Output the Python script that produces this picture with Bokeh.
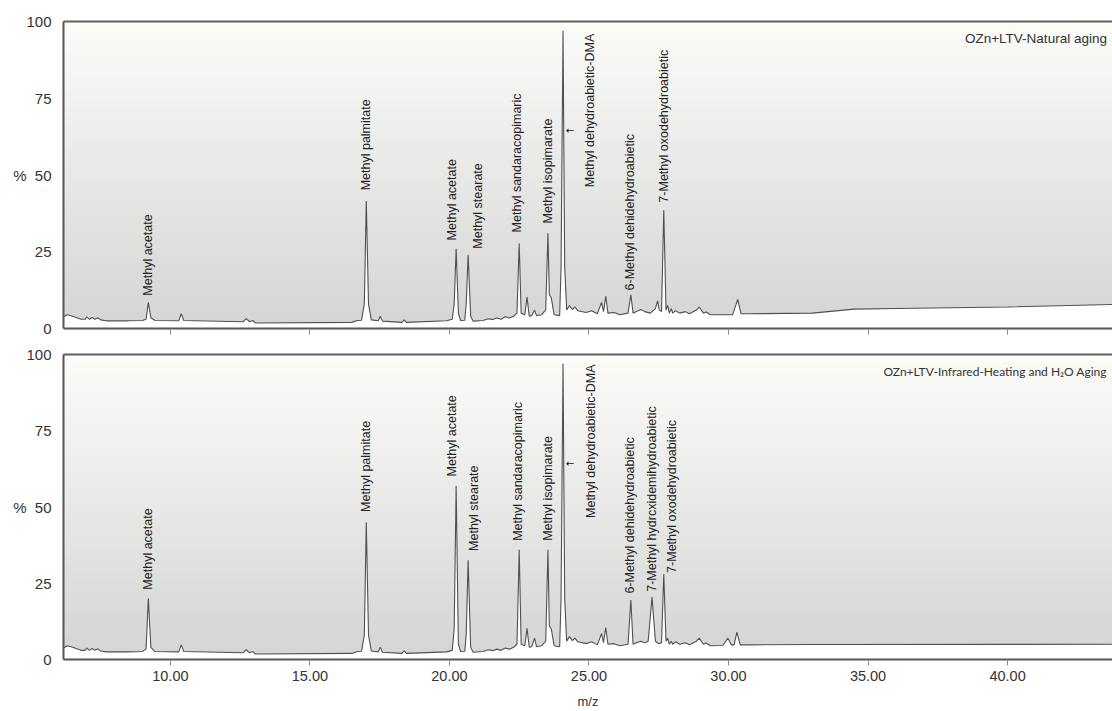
import numpy as np
from bokeh.plotting import figure
from bokeh.models import LinearAxis, FixedTicker, PrintfTickFormatter, ColumnDataSource, Range1d
from bokeh.layouts import column
from bokeh.embed import file_html
from bokeh.resources import INLINE
from bokeh.core.properties import value

# ---------------- data ----------------
x_top = [6.17, 6.3, 6.5, 6.8, 6.95, 7.0, 7.1, 7.2, 7.3, 7.4, 7.5, 7.7, 8.5, 9.0, 9.13, 9.21, 9.3, 9.45,
         10.3, 10.39, 10.48, 12.6, 12.72, 12.84, 12.95, 13.05, 16.5, 16.7, 16.85, 16.95, 17.02, 17.1, 17.2,
         17.45, 17.52, 17.6, 18.3, 18.38, 18.46, 19.9, 20.1, 20.17, 20.24, 20.32, 20.4, 20.55, 20.6, 20.67,
         20.76, 20.85, 21.2, 21.4, 21.55, 21.7, 21.85, 22.0, 22.15, 22.3, 22.42, 22.5, 22.57, 22.7, 22.78,
         22.86, 22.95, 23.05, 23.12, 23.3, 23.45, 23.53, 23.58, 23.65, 23.75, 23.95, 24.0, 24.07, 24.13,
         24.2, 24.3, 24.4, 24.5, 24.6, 24.9, 25.1, 25.3, 25.45, 25.52, 25.6, 25.68, 25.9, 26.1, 26.4, 26.5,
         26.58, 26.7, 26.85, 27.0, 27.2, 27.38, 27.46, 27.52, 27.6, 27.68, 27.76, 27.82, 27.88, 27.95, 28.0,
         28.1, 28.25, 28.45, 28.6, 28.85, 28.95, 29.1, 29.2, 29.35, 30.15, 30.33, 30.45, 30.7, 33.0, 34.5,
         36.0, 40.0, 43.76]
y_top = [3.8, 4.5, 4.0, 3.0, 3.0, 3.8, 3.0, 3.6, 3.0, 3.5, 2.8, 2.5, 2.5, 2.6, 3.0, 8.5, 3.5, 2.6,
         2.5, 4.8, 2.6, 2.2, 3.2, 2.2, 2.6, 1.8, 2.0, 2.6, 2.7, 8.0, 41.5, 8.0, 2.8,
         2.5, 4.0, 2.4, 2.0, 2.8, 2.0, 2.5, 3.0, 8.0, 26.0, 5.0, 2.6, 2.7, 8.0, 24.0,
         4.0, 2.4, 2.6, 3.2, 2.9, 3.4, 3.0, 3.8, 3.4, 4.0, 5.0, 27.7, 5.0, 4.5, 10.2,
         4.0, 4.2, 6.0, 4.2, 4.5, 6.0, 31.0, 11.0, 10.0, 4.5, 4.2, 20.0, 97.0, 20.0,
         6.0, 7.5, 6.2, 7.0, 5.8, 5.2, 5.8, 4.8, 8.5, 5.5, 10.5, 5.0, 5.2, 4.5, 5.0, 11.0,
         5.0, 5.5, 6.2, 5.5, 5.0, 6.5, 9.0, 6.0, 5.5, 38.5, 6.0, 7.5, 5.0, 6.5, 5.0,
         5.8, 5.0, 5.5, 4.8, 6.0, 7.0, 5.0, 5.4, 4.5, 4.5, 9.5, 4.8, 4.8, 5.0, 6.3,
         6.5, 7.0, 7.8]

x_bot = [6.17, 6.3, 6.5, 6.8, 6.95, 7.0, 7.1, 7.2, 7.3, 7.4, 7.5, 7.7, 8.5, 9.0, 9.13, 9.21, 9.3, 9.45,
         10.3, 10.39, 10.48, 12.6, 12.72, 12.84, 12.95, 13.05, 16.5, 16.7, 16.85, 16.95, 17.02, 17.1, 17.2,
         17.45, 17.52, 17.6, 18.3, 18.38, 18.46, 19.9, 20.1, 20.17, 20.24, 20.32, 20.4, 20.55, 20.6, 20.67,
         20.76, 20.85, 21.2, 21.4, 21.55, 21.7, 21.85, 22.0, 22.15, 22.3, 22.42, 22.5, 22.57, 22.7, 22.78,
         22.86, 22.95, 23.05, 23.12, 23.3, 23.45, 23.53, 23.58, 23.65, 23.75, 23.95, 24.0, 24.07, 24.13,
         24.2, 24.3, 24.4, 24.5, 24.6, 24.9, 25.1, 25.3, 25.45, 25.52, 25.6, 25.68, 25.9, 26.1, 26.4, 26.5,
         26.58, 26.7, 26.85, 27.0, 27.12, 27.26, 27.38, 27.5, 27.6, 27.68, 27.76, 27.82, 27.88, 27.95, 28.0,
         28.1, 28.25, 28.45, 28.6, 28.85, 28.95, 29.1, 29.2, 29.35, 29.8, 29.98, 30.1, 30.2, 30.3, 30.42,
         30.7, 33.0, 43.76]
y_bot = [3.8, 4.5, 4.0, 3.0, 3.0, 3.8, 3.0, 3.6, 3.0, 3.5, 2.8, 2.5, 2.5, 2.6, 3.5, 20.0, 4.0, 2.6,
         2.5, 4.8, 2.6, 2.2, 3.2, 2.2, 2.6, 1.8, 2.0, 2.6, 2.7, 8.0, 45.0, 8.0, 2.8,
         2.5, 4.0, 2.4, 2.0, 2.8, 2.0, 2.5, 3.0, 10.0, 57.0, 5.0, 2.6, 2.7, 8.0, 32.5,
         4.0, 2.4, 2.6, 3.2, 2.9, 3.4, 3.0, 3.8, 3.4, 4.0, 5.0, 36.0, 5.0, 4.5, 10.2,
         4.0, 4.2, 7.0, 4.2, 4.5, 6.0, 36.0, 11.0, 10.0, 4.5, 4.2, 20.0, 97.0, 20.0,
         6.0, 7.5, 6.2, 7.0, 5.8, 5.2, 5.8, 4.8, 8.5, 5.5, 10.5, 5.0, 5.2, 4.5, 5.0, 19.5,
         5.0, 5.5, 6.0, 5.5, 6.0, 20.5, 6.0, 5.2, 5.5, 28.0, 6.0, 7.0, 5.0, 6.0, 5.0,
         5.8, 5.0, 5.5, 4.8, 6.0, 7.0, 5.0, 5.4, 4.5, 4.6, 7.0, 4.8, 4.8, 9.0, 4.8,
         4.8, 4.9, 5.0]

labels_top = ["Methyl acetate", "Methyl palmitate", "Methyl acetate", "Methyl stearate",
              "Methyl sandaracopimaric", "Methyl isopimarate", "Methyl dehydroabietic-DMA",
              "6-Methyl dehidehydroabietic", "7-Methyl oxodehydroabietic"]
label_x_top = [9.21, 17.02, 20.10, 21.03, 22.42, 23.53, 25.04, 26.47, 27.69]
label_y_top = [10.7, 45.0, 28.7, 26.0, 31.3, 34.2, 46.0, 12.4, 41.0]

labels_bot = ["Methyl acetate", "Methyl palmitate", "Methyl acetate", "Methyl stearate",
              "Methyl sandaracopimaric", "Methyl isopimarate", "Methyl dehydroabietic-DMA",
              "6-Methyl dehidehydroabietic", "7-Methyl hydrcxidemihydroabietic", "7-Methyl oxodehydroabietic"]
label_x_bot = [9.21, 17.02, 20.10, 20.88, 22.46, 23.53, 25.07, 26.47, 27.26, 27.97]
label_y_bot = [22.9, 48.4, 60.0, 35.6, 38.9, 38.9, 46.4, 21.6, 22.2, 28.4]

arrow_x = [24.32]
arrow_y_top = [64.5]
arrow_y_bot = [64.4]

titles = ["OZn+LTV-Natural aging", "OZn+LTV-Infrared-Heating and H\u2082O Aging"]
title_sizes = ["13.5px", "12px"]
x_ticks = [10, 15, 20, 25, 30, 35, 40]
y_ticks = [0, 25, 50, 75, 100]

X0, X1 = 6.17, 43.76
FONT = "Liberation Sans"
AXIS_COL = "#555555"
TXT_COL = "#333333"

# gradient background image (style only)
N = 200
grad = np.empty((N, 1), dtype=np.uint32)
gv = grad.view(dtype=np.uint8).reshape((N, 1, 4))
for i in range(N):
    t = i / (N - 1)  # 0 bottom, 1 top
    gv[i, 0, 0] = int(213 + (252 - 213) * t)
    gv[i, 0, 1] = int(213 + (252 - 213) * t)
    gv[i, 0, 2] = int(213 + (249 - 213) * t)
    gv[i, 0, 3] = 255

xr = Range1d(X0, X1)


def make_panel(xs, ys, labs, lx, ly, ay, title, title_font, title_size, height, top_border,
               bottom_border, show_labels):
    p = figure(width=1112, height=height, x_range=xr, y_range=Range1d(0, 100),
               output_backend="svg", toolbar_location=None,
               min_border_left=63, min_border_right=0, min_border_top=top_border,
               min_border_bottom=bottom_border)
    p.grid.visible = False
    p.outline_line_color = None
    p.background_fill_color = "white"
    p.border_fill_color = "white"

    p.image_rgba(image=[grad], x=X0, y=0, dw=X1 - X0, dh=100)
    p.varea(x=xs, y1=[0] * len(xs), y2=ys, fill_color="white")
    p.line(xs, ys, line_color="#505050", line_width=1.1)

    src = ColumnDataSource(dict(x=lx, y=ly, t=labs))
    p.text(x="x", y="y", text="t", source=src, angle=np.pi / 2, text_align="left",
           text_baseline="middle", text_font=value(FONT), text_font_size="12.5px",
           text_color="#222222")
    p.text(x=arrow_x, y=ay, text=["\u2190"], text_align="center", text_baseline="middle",
           text_font=value("DejaVu Sans"), text_font_size="10px", text_color="#111111")
    p.text(x=[X1 - 0.2], y=[94.5], text=[title], text_align="right", text_baseline="middle",
           text_font=value(title_font), text_font_size=title_size, text_color="#333333")

    yax = p.yaxis[0]
    yax.ticker = FixedTicker(ticks=y_ticks)
    yax.major_tick_line_color = None
    yax.minor_tick_line_color = None
    yax.axis_line_color = AXIS_COL
    yax.axis_line_width = 2
    yax.major_label_text_font = FONT
    yax.major_label_text_font_size = "15px"
    yax.major_label_text_color = TXT_COL
    yax.major_label_standoff = 6
    yax.major_label_overrides = {50: "%\u00a0\u00a050"}

    xax = p.xaxis[0]
    xax.ticker = FixedTicker(ticks=x_ticks)
    xax.minor_tick_line_color = None
    xax.major_tick_in = 0
    xax.major_tick_out = 6
    xax.major_tick_line_color = "#888888"
    xax.axis_line_color = AXIS_COL
    xax.axis_line_width = 2
    xax.major_label_text_font = FONT
    xax.major_label_text_color = TXT_COL
    if show_labels:
        xax.formatter = PrintfTickFormatter(format="%.2f")
        xax.major_label_text_font_size = "14.5px"
        xax.major_label_standoff = 5
        xax.axis_label = "m/z"
        xax.axis_label_text_font = FONT
        xax.axis_label_text_font_style = "normal"
        xax.axis_label_text_font_size = "13px"
        xax.axis_label_text_color = TXT_COL
        xax.axis_label_standoff = 10
    else:
        xax.major_label_overrides = {t: "" for t in x_ticks}
        xax.major_label_standoff = 0

    top_ax = LinearAxis(ticker=FixedTicker(ticks=[]), major_tick_line_color=None,
                        minor_tick_line_color=None, axis_line_color="#606060",
                        axis_line_width=2, major_label_standoff=0)
    p.add_layout(top_ax, "above")
    return p


p_top = make_panel(x_top, y_top, labels_top, label_x_top, label_y_top, arrow_y_top,
                   titles[0], FONT, title_sizes[0], 341, 21, 13, False)
p_bot = make_panel(x_bot, y_bot, labels_bot, label_x_bot, label_y_bot, arrow_y_bot,
                   titles[1], "Lato", title_sizes[1], 370, 13, 0, True)

layout = column(p_top, p_bot, spacing=0)
open("out.html", "w").write(file_html(layout, INLINE))
